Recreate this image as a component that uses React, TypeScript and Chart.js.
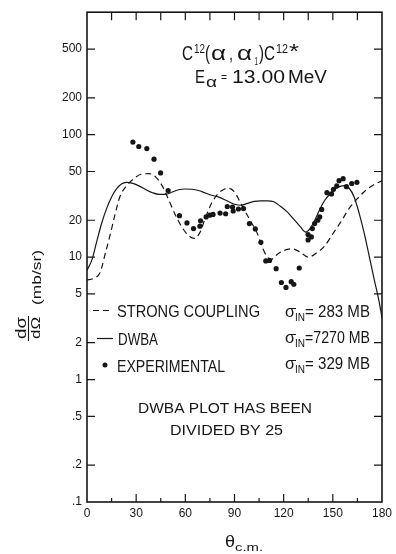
import React, { useEffect, useRef } from "react";
import { Chart, registerables } from "chart.js";

Chart.register(...registerables);

// ---------- data ----------
const xTickValues = [0, 15, 30, 45, 60, 75, 90, 105, 120, 135, 150, 165, 180];
const xLabelValues = [0, 30, 60, 90, 120, 150, 180];
const yTickValues = [0.1, 0.2, 0.5, 1, 2, 5, 10, 20, 50, 100, 200, 500];
const yTickLabels = [".1", ".2", ".5", "1", "2", "5", "10", "20", "50", "100", "200", "500"];

const strongAngles = [0, 4, 8, 11, 14, 17, 20, 24, 28, 33, 38, 42, 46, 50, 54, 58, 62, 65.5, 69, 72, 76, 80, 84, 86.5, 90, 95, 100, 104, 107, 110, 112.5, 116, 120, 125, 130, 135, 140, 145, 150, 155, 160, 165, 170, 175, 180];
const strongValues = [6.5, 6.7, 7.5, 10.5, 15, 22, 31, 38, 43, 47.5, 48, 45, 38, 29, 22, 17.5, 15, 14.2, 16, 20.5, 27.5, 33, 36, 36.5, 34, 25.6, 19.5, 15.5, 12, 10, 9.6, 10.5, 11.3, 11.7, 11, 10, 10.8, 12.3, 15.5, 19.5, 25, 30, 35, 39, 42];

const dwbaAngles = [0, 3, 6, 9, 12, 15, 18, 21, 24, 28, 32, 36, 40, 44, 48, 52, 56, 60, 64, 68, 72, 76, 80, 85, 90, 94, 98, 102, 106, 110, 114, 118, 122, 126, 130, 133.5, 136, 139, 142, 145, 148, 152, 155, 157.5, 160, 163, 166, 169, 172, 175, 178, 180];
const dwbaValues = [7.8, 9.5, 13.5, 19, 25, 31, 36, 39.5, 40.8, 40, 38, 35.5, 33.5, 32.5, 32.5, 34, 35.5, 36, 35.8, 35, 33.5, 32, 31, 29, 27, 26.5, 27.5, 28.5, 28.8, 28.8, 28.3, 26, 23.5, 20.5, 17.8, 16, 17, 20, 24.5, 29, 32.5, 36.5, 38, 38.3, 36.5, 31, 23, 16, 10.5, 6.8, 4.5, 3.2];

const expAngles = [28, 31.6, 36.5, 40.9, 44.9, 49.5, 56.4, 61, 65, 68.9, 69.3, 72.7, 74.9, 76.9, 81.2, 84.6, 85.6, 88.8, 89.2, 92.4, 95.5, 99.1, 102.7, 106.1, 109.1, 111.4, 115.4, 118.6, 121.4, 124.6, 126.2, 129.5, 134.9, 134.9, 136.9, 137.5, 138.9, 140.8, 142, 143.2, 146.4, 149.2, 150.4, 152.4, 153.8, 156.3, 158.3, 161.5, 164.7];
const expValues = [87, 80, 77, 63, 48.7, 35, 21.8, 19, 17.1, 17.9, 19.8, 21.3, 22, 22.3, 22.9, 22.6, 25.9, 25.6, 23.8, 24.7, 24.9, 18.8, 17, 13.2, 9.3, 9.4, 8.05, 6.2, 5.65, 6.3, 6.0, 8.15, 15.3, 13.8, 14.6, 17.1, 18.8, 20, 21.3, 24.5, 33.6, 32.8, 35.8, 38.1, 42.1, 43.7, 37.6, 39.9, 40.8];

const INK = "#161616";
const FONT = '"Liberation Sans", Arial, sans-serif';

// draw text so that it spans exactly width w starting at x (baseline y)
function fit(ctx: CanvasRenderingContext2D, s: string, x: number, y: number, size: number, w?: number) {
  ctx.font = `${size}px ${FONT}`;
  ctx.textAlign = "left";
  ctx.textBaseline = "alphabetic";
  const m = ctx.measureText(s).width;
  ctx.save();
  ctx.translate(x, y);
  if (w && m > 0) ctx.scale(w / m, 1);
  ctx.fillText(s, 0, 0);
  ctx.restore();
}

const decorPlugin = {
  id: "decor",
  afterDraw(chart: any) {
    const ctx: CanvasRenderingContext2D = chart.ctx;
    const { left, right, top, bottom } = chart.chartArea;
    const xs = chart.scales.x;
    const ys = chart.scales.y;
    ctx.save();
    ctx.strokeStyle = INK;
    ctx.fillStyle = INK;
    ctx.setLineDash([]);
    // frame
    ctx.lineWidth = 1.6;
    ctx.strokeRect(left, top, right - left, bottom - top);
    // ticks
    ctx.lineWidth = 1.2;
    ctx.beginPath();
    yTickValues.forEach((v) => {
      if (v === 0.1) return;
      const py = ys.getPixelForValue(v);
      ctx.moveTo(left, py);
      ctx.lineTo(left + 8, py);
      ctx.moveTo(right, py);
      ctx.lineTo(right - 8, py);
    });
    xTickValues.forEach((v) => {
      if (v === 0 || v === 180) return;
      const px = xs.getPixelForValue(v);
      const len = v % 30 === 0 ? 8 : 4;
      ctx.moveTo(px, bottom);
      ctx.lineTo(px, bottom - len);
      ctx.moveTo(px, top);
      ctx.lineTo(px, top + 8);
    });
    ctx.stroke();

    // title
    fit(ctx, "C", 182, 60, 21, 11);
    fit(ctx, "12", 194, 53, 12, 11);
    fit(ctx, "(", 205, 60, 21, 5);
    fit(ctx, "α", 211, 60, 21, 15);
    fit(ctx, ",", 229, 60, 21, 4);
    fit(ctx, "α", 237, 60, 21, 15);
    fit(ctx, "1", 254.5, 65, 11, 3.5);
    fit(ctx, ")", 259, 60, 21, 5);
    fit(ctx, "C", 264, 60, 21, 11);
    fit(ctx, "12", 276, 53, 12, 12);
    fit(ctx, "*", 289, 58, 21, 10);
    // energy
    fit(ctx, "E", 195, 83, 18, 10);
    fit(ctx, "α", 206, 87, 14, 11);
    fit(ctx, "=", 221, 81, 12, 6);
    fit(ctx, "13.00", 232, 83, 18, 53);
    fit(ctx, "MeV", 288, 83, 18, 39);

    // legend samples
    ctx.lineWidth = 1.2;
    ctx.setLineDash([6, 4]);
    ctx.beginPath();
    ctx.moveTo(93, 310.5);
    ctx.lineTo(111, 310.5);
    ctx.stroke();
    ctx.setLineDash([]);
    ctx.beginPath();
    ctx.moveTo(97, 338.5);
    ctx.lineTo(113, 338.5);
    ctx.stroke();
    ctx.beginPath();
    ctx.arc(105, 365, 2.5, 0, Math.PI * 2);
    ctx.fill();

    fit(ctx, "STRONG COUPLING", 117, 317, 16, 143);
    fit(ctx, "DWBA", 118, 345, 16, 40);
    fit(ctx, "EXPERIMENTAL", 117, 372, 16, 108);

    const sig: [string, number][] = [
      ["= 283 MB", 317],
      ["=7270 MB", 343],
      ["= 329 MB", 369],
    ];
    sig.forEach(([s, y]) => {
      fit(ctx, "σ", 285, y, 17, 10);
      ctx.lineWidth = 1;
      ctx.beginPath();
      ctx.moveTo(289, y - 8.5);
      ctx.lineTo(296, y - 8.5);
      ctx.stroke();
      fit(ctx, "IN", 295, y + 4, 10, 10);
      fit(ctx, s, 305, y, 16, 65);
    });

    fit(ctx, "DWBA PLOT HAS BEEN", 138, 413, 15, 174);
    fit(ctx, "DIVIDED BY 25", 170, 435, 15, 113);

    // x title
    fit(ctx, "θ", 225, 547, 16, 10);
    fit(ctx, "c.m.", 235, 551, 11, 28);

    // y title (rotated)
    ctx.save();
    ctx.translate(41, 305);
    ctx.rotate(-Math.PI / 2);
    fit(ctx, "(mb/sr)", 0, 0, 13, 55);
    ctx.restore();

    ctx.save();
    ctx.translate(26, 339);
    ctx.rotate(-Math.PI / 2);
    fit(ctx, "dσ", 0, 0, 14, 22);
    ctx.restore();

    ctx.save();
    ctx.translate(40, 339);
    ctx.rotate(-Math.PI / 2);
    fit(ctx, "dΩ", 0, 0, 13, 22);
    ctx.restore();

    ctx.lineWidth = 1.1;
    ctx.beginPath();
    ctx.moveTo(28.5, 316);
    ctx.lineTo(28.5, 341);
    ctx.stroke();

    ctx.restore();
  },
};

export default function App() {
  const ref = useRef<HTMLCanvasElement>(null);

  useEffect(() => {
    if (!ref.current) return;
    const chart = new Chart(ref.current, {
      type: "scatter",
      data: {
        datasets: [
          {
            label: "STRONG COUPLING",
            data: strongAngles.map((a, i) => ({ x: a, y: strongValues[i] })),
            showLine: true,
            borderColor: INK,
            borderWidth: 1.2,
            borderDash: [6, 4],
            pointRadius: 0,
            cubicInterpolationMode: "monotone",
          },
          {
            label: "DWBA",
            data: dwbaAngles.map((a, i) => ({ x: a, y: dwbaValues[i] })),
            showLine: true,
            borderColor: INK,
            borderWidth: 1.2,
            pointRadius: 0,
            cubicInterpolationMode: "monotone",
          },
          {
            label: "EXPERIMENTAL",
            data: expAngles.map((a, i) => ({ x: a, y: expValues[i] })),
            showLine: false,
            backgroundColor: INK,
            borderWidth: 0,
            pointRadius: 2.6,
          },
        ],
      },
      options: {
        animation: false,
        responsive: false,
        layout: { padding: { top: 7, right: 7, left: 0, bottom: 0 } },
        plugins: { legend: { display: false }, tooltip: { enabled: false } },
        scales: {
          x: {
            type: "linear",
            min: 0,
            max: 180,
            afterBuildTicks: (scale: any) => {
              scale.ticks = xTickValues.map((v) => ({ value: v }));
            },
            afterFit: (scale: any) => {
              scale.height = 52;
            },
            ticks: {
              autoSkip: false,
              maxRotation: 0,
              padding: 4,
              color: INK,
              font: { family: FONT, size: 12 },
              callback: (v: any) => (xLabelValues.includes(Number(v)) ? String(v) : ""),
            },
            grid: { display: false, drawTicks: false },
            border: { display: false },
          },
          y: {
            type: "logarithmic",
            min: 0.1,
            max: 1000,
            afterBuildTicks: (scale: any) => {
              scale.ticks = yTickValues.map((v) => ({ value: v }));
            },
            afterFit: (scale: any) => {
              scale.width = 87;
            },
            ticks: {
              autoSkip: false,
              padding: 5,
              color: INK,
              font: { family: FONT, size: 12 },
              callback: (v: any) => {
                const i = yTickValues.findIndex((t) => Math.abs(t - Number(v)) < 1e-9);
                return i >= 0 ? yTickLabels[i] : "";
              },
            },
            grid: { display: false, drawTicks: false },
            border: { display: false },
          },
        },
      } as any,
      plugins: [decorPlugin],
    });
    return () => chart.destroy();
  }, []);

  return (
    <div style={{ position: "absolute", left: 0, top: 0, width: 396, height: 554, background: "#fff" }}>
      <canvas ref={ref} width={396} height={554} style={{ display: "block" }} />
    </div>
  );
}
